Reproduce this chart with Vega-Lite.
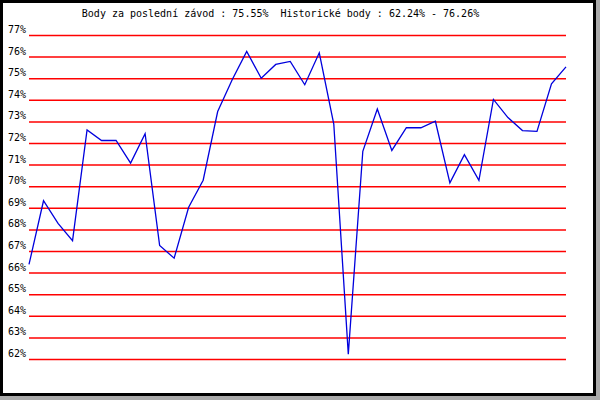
{
  "$schema": "https://vega.github.io/schema/vega-lite/v6.json",
  "autosize": "none",
  "width": 593,
  "height": 393,
  "padding": {"left": 1.5, "top": 1.5, "right": 5.5, "bottom": 5.5},
  "background": "#aaaaaa",
  "config": {
    "view": {"fill": "white", "stroke": "black", "strokeWidth": 3},
    "text": {"font": "DejaVu Sans Mono"}
  },
  "datasets": {
    "hdr": [
      {"t": "Body za poslední závod : 75.55% \u00a0Historické body : 62.24% - 76.26%"}
    ],
    "grid": [
      {"g": 62, "lab": "62%"}, {"g": 63, "lab": "63%"}, {"g": 64, "lab": "64%"}, {"g": 65, "lab": "65%"},
      {"g": 66, "lab": "66%"}, {"g": 67, "lab": "67%"}, {"g": 68, "lab": "68%"}, {"g": 69, "lab": "69%"},
      {"g": 70, "lab": "70%"}, {"g": 71, "lab": "71%"}, {"g": 72, "lab": "72%"}, {"g": 73, "lab": "73%"},
      {"g": 74, "lab": "74%"}, {"g": 75, "lab": "75%"}, {"g": 76, "lab": "76%"}, {"g": 77, "lab": "77%"}
    ],
    "pts": [
      {"i": 1, "v": 66.4}, {"i": 2, "v": 69.35}, {"i": 3, "v": 68.3}, {"i": 4, "v": 67.5},
      {"i": 5, "v": 72.63}, {"i": 6, "v": 72.14}, {"i": 7, "v": 72.14}, {"i": 8, "v": 71.09},
      {"i": 9, "v": 72.45}, {"i": 10, "v": 67.28}, {"i": 11, "v": 66.69}, {"i": 12, "v": 69.05},
      {"i": 13, "v": 70.3}, {"i": 14, "v": 73.48}, {"i": 15, "v": 74.95}, {"i": 16, "v": 76.26},
      {"i": 17, "v": 75.02}, {"i": 18, "v": 75.66}, {"i": 19, "v": 75.8}, {"i": 20, "v": 74.72},
      {"i": 21, "v": 76.2}, {"i": 22, "v": 72.9}, {"i": 23, "v": 62.24}, {"i": 24, "v": 71.64},
      {"i": 25, "v": 73.6}, {"i": 26, "v": 71.68}, {"i": 27, "v": 72.73}, {"i": 28, "v": 72.73},
      {"i": 29, "v": 73.03}, {"i": 30, "v": 70.18}, {"i": 31, "v": 71.48}, {"i": 32, "v": 70.29},
      {"i": 33, "v": 74.04}, {"i": 34, "v": 73.2}, {"i": 35, "v": 72.6}, {"i": 36, "v": 72.56},
      {"i": 37, "v": 74.76}, {"i": 38, "v": 75.55}
    ]
  },
  "layer": [
    {
      "data": {"name": "grid"},
      "mark": {"type": "rule", "color": "#ff0000", "strokeWidth": 1.5},
      "encoding": {
        "x": {"datum": 1, "type": "quantitative", "scale": {"domain": [-0.8948, 39.9637], "nice": false, "zero": false}, "axis": null},
        "x2": {"datum": 38},
        "y": {"field": "g", "type": "quantitative", "scale": {"domain": [60.3796, 78.574], "nice": false, "zero": false}, "axis": null}
      }
    },
    {
      "data": {"name": "grid"},
      "mark": {"type": "text", "align": "right", "baseline": "alphabetic", "dx": -3, "dy": -2.5, "fontSize": 10, "color": "black"},
      "encoding": {
        "x": {"datum": 1, "type": "quantitative"},
        "y": {"field": "g", "type": "quantitative"},
        "text": {"field": "lab"}
      }
    },
    {
      "data": {"name": "hdr"},
      "mark": {"type": "text", "align": "center", "baseline": "alphabetic", "fontSize": 10, "color": "black"},
      "encoding": {
        "x": {"datum": 18.329, "type": "quantitative"},
        "y": {"datum": 77.856, "type": "quantitative"},
        "text": {"field": "t"}
      }
    },
    {
      "data": {"name": "pts"},
      "mark": {"type": "line", "color": "#0000dd", "strokeWidth": 1.3},
      "encoding": {
        "x": {"field": "i", "type": "quantitative"},
        "y": {"field": "v", "type": "quantitative"}
      }
    }
  ]
}
